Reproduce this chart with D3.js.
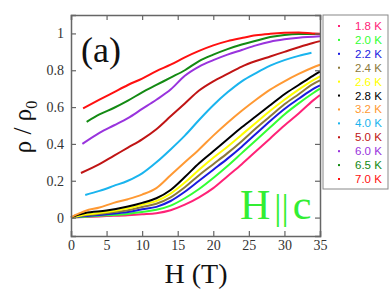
<!DOCTYPE html>
<html>
<head>
<meta charset="utf-8">
<script src="https://cdn.jsdelivr.net/npm/d3@7"></script>
<style>
body { margin: 0; background: #fff; }
svg { display: block; }
</style>
</head>
<body>
<div id="chart"></div>
<script>
// Temperatures, colours, and one [H, rho/rho0] list per curve
var temps = ["1.8 K", "2.0 K", "2.2 K", "2.4 K", "2.6 K", "2.8 K", "3.2 K", "4.0 K", "5.0 K", "6.0 K", "6.5 K", "7.0 K"];
var colors = ["#ff2277", "#33ff33", "#1a1ae0", "#8c7a3c", "#ffff00", "#000000", "#ff9933", "#1ab4ee", "#c01414", "#9933dd", "#138a13", "#ff1010"];

var c18 = [[0,0],[2,0.003],[5,0.008],[8,0.013],[10,0.018],[12,0.024],[14,0.04],[16,0.07],[18,0.11],[20,0.16],[22,0.225],[24,0.29],[26,0.36],[28,0.43],[30,0.5],[32,0.565],[34,0.635],[35,0.666]];
var c20 = [[0,0],[2,0.005],[5,0.012],[8,0.02],[10,0.03],[12,0.042],[14,0.065],[16,0.105],[18,0.155],[20,0.215],[22,0.28],[24,0.35],[26,0.42],[28,0.49],[30,0.56],[32,0.62],[34,0.675],[35,0.70]];
var c22 = [[0,0],[2,0.008],[5,0.018],[8,0.03],[10,0.045],[12,0.058],[14,0.09],[16,0.14],[18,0.2],[20,0.26],[22,0.32],[24,0.385],[26,0.455],[28,0.525],[30,0.59],[32,0.645],[34,0.698],[35,0.718]];
var c24 = [[0,0],[2,0.012],[5,0.025],[8,0.04],[10,0.058],[12,0.075],[14,0.11],[16,0.165],[18,0.23],[20,0.29],[22,0.35],[24,0.415],[26,0.485],[28,0.55],[30,0.615],[32,0.67],[34,0.725],[35,0.745]];
var c26 = [[0,0],[2,0.016],[5,0.03],[8,0.05],[10,0.07],[12,0.09],[14,0.13],[16,0.19],[18,0.26],[20,0.325],[22,0.385],[24,0.45],[26,0.515],[28,0.58],[30,0.64],[32,0.695],[34,0.745],[35,0.767]];
var c28 = [[0,0],[1,0.015],[2,0.025],[5,0.038],[8,0.06],[10,0.08],[12,0.105],[14,0.15],[16,0.22],[18,0.295],[20,0.36],[22,0.425],[24,0.49],[26,0.55],[28,0.61],[30,0.67],[32,0.72],[34,0.77],[35,0.793]];
var c32 = [[0,0],[0.5,0.012],[1,0.02],[2,0.036],[4,0.055],[6,0.08],[8,0.1],[10,0.125],[12,0.16],[14,0.23],[16,0.3],[18,0.37],[20,0.445],[22,0.515],[24,0.58],[26,0.64],[28,0.695],[30,0.74],[32,0.78],[34,0.815],[35,0.83]];
var c40 = [[2,0.123],[4,0.145],[6,0.172],[8,0.2],[10,0.24],[12,0.3],[14,0.37],[16,0.445],[18,0.53],[20,0.61],[22,0.68],[24,0.74],[26,0.785],[28,0.825],[30,0.855],[32,0.878],[33.8,0.895]];
var c50 = [[1.4,0.242],[4,0.29],[6,0.335],[8,0.38],[10,0.425],[12,0.48],[14,0.55],[16,0.62],[18,0.69],[20,0.74],[22,0.78],[24,0.82],[26,0.85],[28,0.875],[30,0.9],[32,0.925],[34,0.948],[35,0.958]];
var c60 = [[1.6,0.40],[4,0.46],[6,0.5],[8,0.54],[10,0.59],[12,0.64],[14,0.695],[16,0.77],[18,0.82],[20,0.855],[22,0.885],[24,0.91],[26,0.935],[28,0.955],[30,0.968],[32,0.977],[35,0.985]];
var c65 = [[2.2,0.52],[4,0.56],[6,0.595],[8,0.635],[10,0.68],[12,0.72],[14,0.76],[16,0.8],[18,0.85],[20,0.885],[22,0.915],[24,0.94],[26,0.96],[28,0.98],[30,0.992],[32,0.997],[35,0.997]];
var c70 = [[1.7,0.593],[4,0.64],[6,0.68],[8,0.72],[10,0.755],[12,0.795],[14,0.83],[16,0.87],[18,0.905],[20,0.935],[22,0.958],[24,0.975],[26,0.99],[28,0.998],[30,1.003],[32,1.005],[34,1.0],[35,0.998]];
var curves = [c18, c20, c22, c24, c26, c28, c32, c40, c50, c60, c65, c70];

var xTicks = [0, 5, 10, 15, 20, 25, 30, 35];
var yTicks = [0, 0.2, 0.4, 0.6, 0.8, 1];

var W = 390, H = 294;
var pLeft = 71, pRight = 320, pTop = 15, pBottom = 236;
var serif = "'Liberation Serif', 'DejaVu Serif', serif";

var svg = d3.select("#chart").append("svg").attr("width", W).attr("height", H);

var x = d3.scaleLinear().domain([0, 35]).range([pLeft, pRight]);
var y = d3.scaleLinear().domain([-0.1, 1.1]).range([pBottom, pTop]);

// curves first, frame over them
var line = d3.line().x(function(d){ return x(d[0]); }).y(function(d){ return y(d[1]); }).curve(d3.curveMonotoneX);
svg.append("g").selectAll("path")
	.data(curves)
	.enter()
	.append("path")
	.attr("d", line)
	.attr("fill", "none")
	.attr("stroke", function(d, i){ return colors[i]; })
	.attr("stroke-width", 2);

// axes with inward ticks on all four sides
var axisColor = "#666";
var gB = svg.append("g").attr("transform", "translate(0," + pBottom + ")")
	.call(d3.axisBottom(x).tickValues(xTicks).tickSize(-5).tickPadding(4).tickFormat(d3.format("d")));
var gT = svg.append("g").attr("transform", "translate(0," + pTop + ")")
	.call(d3.axisTop(x).tickValues(xTicks).tickSize(-5).tickFormat(""));
var gL = svg.append("g").attr("transform", "translate(" + pLeft + ",0)")
	.call(d3.axisLeft(y).tickValues(yTicks).tickSize(-5).tickPadding(7).tickFormat(function(d){ return d === 0 ? "0" : d3.format("~g")(d); }));
var gR = svg.append("g").attr("transform", "translate(" + pRight + ",0)")
	.call(d3.axisRight(y).tickValues(yTicks).tickSize(-5).tickFormat(""));
[gB, gT, gL, gR].forEach(function(g){
	g.attr("font-family", serif);
	g.select(".domain").attr("stroke", axisColor).attr("stroke-width", 1.5);
	g.selectAll(".tick line").attr("stroke", axisColor).attr("stroke-width", 1.2);
	g.selectAll("text").attr("font-family", serif).attr("font-size", 14).attr("fill", "#333");
});

// axis titles
svg.append("text").attr("x", 196).attr("y", 283).attr("text-anchor", "middle")
	.attr("font-family", serif).attr("font-size", 28).attr("fill", "#111").text("H (T)");
var yl = svg.append("text").attr("transform", "translate(31,127) rotate(-90)").attr("text-anchor", "middle")
	.attr("font-family", serif).attr("font-size", 25).attr("fill", "#111");
yl.append("tspan").text("\u03c1 / \u03c1");
yl.append("tspan").attr("font-size", 16).attr("dy", 6).text("0");

// panel label and field direction
svg.append("text").attr("x", 81).attr("y", 62)
	.attr("font-family", serif).attr("font-size", 36).attr("fill", "#111").text("(a)");
var hc = svg.append("text").attr("x", 240).attr("y", 219)
	.attr("font-family", serif).attr("font-size", 42).attr("fill", "#33ee33");
hc.append("tspan").text("H");
hc.append("tspan").attr("dx", 4).attr("font-size", 36).text("||");
hc.append("tspan").attr("dx", 4).text("c");

// legend
var lg = svg.append("g");
lg.append("rect").attr("x", 323).attr("y", 15).attr("width", 65).attr("height", 174)
	.attr("fill", "#fff").attr("stroke", "#888").attr("stroke-width", 1);
var ly = d3.scalePoint().domain(temps).range([26, 179]);
lg.selectAll("rect.m").data(temps).enter().append("rect").attr("class", "m")
	.attr("x", 338).attr("y", function(d){ return ly(d) - 1; })
	.attr("width", 2).attr("height", 2)
	.attr("fill", function(d, i){ return colors[i]; });
lg.selectAll("text").data(temps).enter().append("text")
	.attr("x", 355).attr("y", function(d){ return ly(d) + 4; })
	.attr("font-family", "'Liberation Sans', Arial, sans-serif").attr("font-size", 11.5)
	.attr("fill", function(d, i){ return colors[i]; })
	.text(function(d){ return d; });
</script>
</body>
</html>
